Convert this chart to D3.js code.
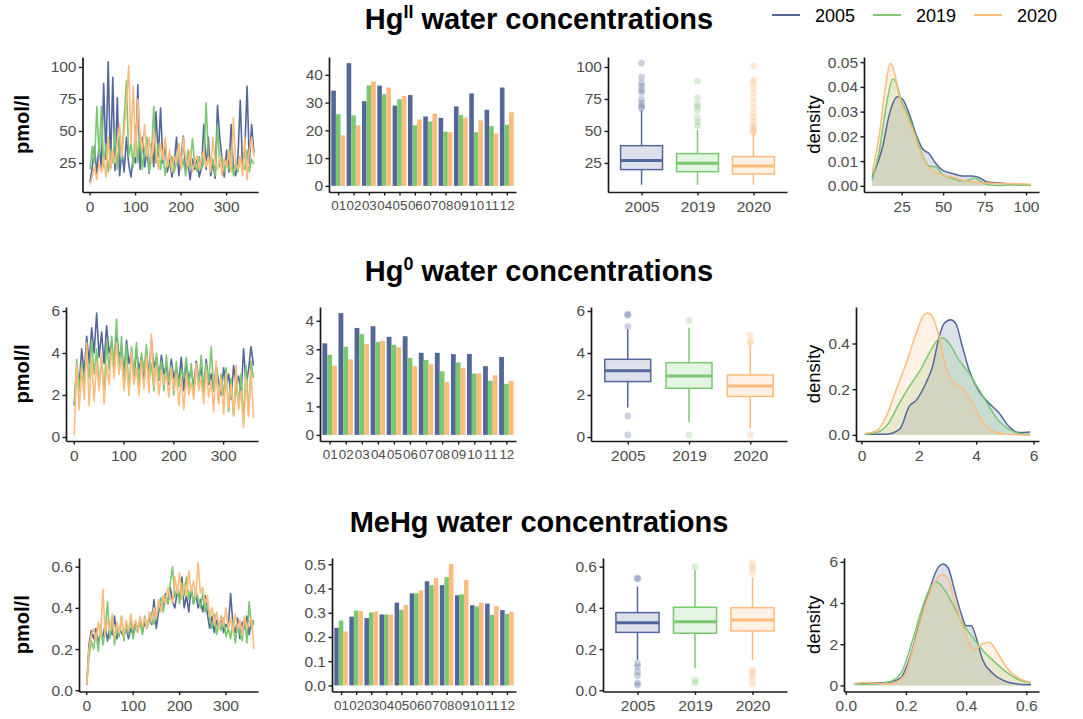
<!DOCTYPE html>
<html>
<head>
<meta charset="utf-8">
<script src="https://cdn.jsdelivr.net/npm/d3@7"></script>
<style>
  body { margin: 0; background: #fff; }
  text { font-family: "Liberation Sans", Arial, sans-serif; }
</style>
</head>
<body>
<svg id="chart" width="1083" height="719"></svg>
<script>
const years = ["2005", "2019", "2020"];
const yearColors = ["#53679a", "#7ac870", "#fdbb7c"];
const months = ["01", "02", "03", "04", "05", "06", "07", "08", "09", "10", "11", "12"];
const sampleDays = d3.range(1, 362, 5);
const dayTicks = [0, 100, 200, 300];

// ---- Hg(II) ----
const hg2Daily2005 = [10, 22, 38, 16, 40, 20, 87, 28, 104, 21, 92, 19, 76, 15, 35, 18, 45, 24, 14, 30, 25, 86, 20, 45, 22, 35, 17, 40, 22, 65, 30, 68, 25, 40, 18, 28, 14, 25, 45, 15, 30, 46, 18, 25, 12, 28, 20, 30, 14, 22, 55, 20, 45, 15, 25, 13, 70, 45, 28, 14, 35, 18, 55, 20, 15, 30, 74, 22, 35, 85, 25, 55, 33];
const hg2Daily2019 = [20, 38, 25, 69, 30, 69, 22, 40, 18, 35, 25, 50, 20, 45, 28, 60, 89, 30, 40, 22, 55, 25, 48, 20, 35, 45, 18, 30, 69, 25, 40, 20, 35, 15, 28, 22, 30, 18, 25, 40, 20, 28, 15, 35, 22, 44, 25, 18, 30, 20, 25, 72, 30, 20, 28, 15, 55, 22, 30, 18, 25, 20, 35, 15, 25, 18, 30, 22, 20, 35, 18, 28, 24];
const hg2Daily2020 = [8, 15, 22, 12, 25, 18, 30, 14, 45, 20, 35, 25, 40, 55, 30, 50, 70, 101, 40, 85, 30, 75, 45, 35, 55, 30, 45, 25, 50, 35, 20, 40, 28, 45, 22, 35, 18, 30, 25, 40, 20, 45, 28, 22, 35, 18, 25, 30, 20, 28, 35, 22, 30, 18, 45, 25, 20, 30, 15, 28, 22, 35, 18, 60, 25, 20, 30, 15, 45, 12, 35, 45, 30];
const hg2Monthly2005 = [34.3, 44.2, 30.5, 36.1, 28.9, 32.7, 25.0, 24.5, 28.6, 33.3, 27.4, 35.4];
const hg2Monthly2019 = [25.8, 25.4, 36.2, 33.0, 31.2, 21.8, 23.2, 19.5, 25.5, 19.3, 21.5, 22.0];
const hg2Monthly2020 = [18.2, 21.8, 37.6, 35.4, 32.4, 23.9, 26.0, 19.3, 24.6, 23.6, 18.8, 26.5];
// [lower whisker, q1, median, q3, upper whisker]
const hg2Box = [[7.9, 19.8, 27.0, 38.5, 66.0], [7.9, 18.2, 24.7, 32.3, 50.7], [7.9, 16.4, 22.7, 30.0, 48.0]];
const hg2Outliers = [
  [67.6, 69.4, 71.5, 74.6, 80, 82, 85, 87.5, 92, 103],
  [54, 57, 60.5, 66, 69, 71, 76, 89],
  [49, 50, 51.5, 53, 55, 58, 61, 64, 68, 72, 76, 80, 84, 88, 90, 101]
];
const hg2Density2005 = [[7.2, 0.0036], [13.6, 0.016], [17.6, 0.029], [22.6, 0.036], [25.6, 0.035], [29.6, 0.029], [33.6, 0.021], [37.6, 0.015], [41.6, 0.013], [45.6, 0.009], [49.6, 0.0064], [55.6, 0.005], [61.6, 0.004], [67.6, 0.004], [71.6, 0.0034], [76.6, 0.0016], [81.6, 0.0013], [87.6, 0.001], [95.6, 0.0005], [103, 0.0003]];
const hg2Density2019 = [[7.2, 0.0023], [11.6, 0.0145], [15.6, 0.032], [19.6, 0.0432], [21.6, 0.042], [24.6, 0.035], [28.6, 0.029], [33.6, 0.02], [37.6, 0.0124], [41.6, 0.008], [45.6, 0.0077], [49.6, 0.0047], [55.6, 0.003], [61.6, 0.002], [65.6, 0.0023], [68.6, 0.0034], [71.6, 0.0023], [76.6, 0.0005], [83.6, 0.0001], [91.6, 0.0005], [103, 0.0001]];
const hg2Density2020 = [[7.2, 0.005], [11.6, 0.021], [15.6, 0.0415], [18, 0.0496], [20.6, 0.046], [23.6, 0.036], [27.6, 0.029], [31.6, 0.0226], [35.6, 0.015], [39.6, 0.009], [44.6, 0.0057], [49.6, 0.0043], [55.6, 0.0036], [61.6, 0.0023], [67.6, 0.0016], [75.6, 0.0012], [83.6, 0.001], [91.6, 0.0009], [103, 0.0007]];
const hg2ValueTicks = [25, 50, 75, 100];
const hg2BarTicks = [0, 10, 20, 30, 40];
const hg2DensityTicks = [0, 0.01, 0.02, 0.03, 0.04, 0.05];

// ---- Hg(0) ----
const hg0Daily2005 = [1.5, 3.2, 2.5, 4.2, 3.0, 4.8, 3.5, 5.2, 4.0, 5.9, 3.8, 5.0, 3.5, 5.3, 4.0, 4.5, 3.3, 5.0, 3.8, 4.2, 3.0, 4.6, 3.5, 4.0, 2.8, 4.2, 3.2, 3.8, 2.6, 4.0, 3.0, 4.6, 3.3, 3.8, 2.7, 3.9, 3.0, 3.4, 2.5, 3.7, 2.8, 3.3, 2.6, 3.8, 2.2, 3.5, 2.8, 3.2, 2.4, 3.6, 2.7, 3.3, 2.2, 3.7, 2.5, 3.0, 2.2, 3.4, 2.6, 2.0, 3.3, 2.4, 3.0, 1.8, 3.4, 2.5, 2.9, 2.0, 4.2, 2.5, 3.2, 4.3, 3.4];
const hg0Daily2019 = [1.5, 3.7, 2.2, 3.5, 2.5, 4.0, 2.8, 4.6, 3.0, 4.2, 2.4, 3.8, 2.0, 4.5, 3.2, 4.8, 3.5, 5.6, 3.0, 4.8, 2.5, 4.4, 2.0, 4.3, 3.0, 4.5, 2.4, 4.0, 3.2, 4.4, 2.6, 3.5, 2.2, 4.0, 2.8, 3.6, 2.2, 3.9, 2.6, 3.4, 2.0, 3.6, 2.4, 3.2, 2.8, 3.8, 2.3, 3.5, 2.0, 3.4, 2.5, 3.9, 2.2, 3.5, 2.6, 4.3, 2.2, 3.2, 1.6, 3.0, 2.0, 3.3, 1.2, 2.8, 1.0, 2.5, 1.6, 3.0, 0.7, 3.4, 1.0, 3.6, 2.8];
const hg0Daily2020 = [0.1, 3.5, 1.3, 3.3, 1.8, 4.5, 1.5, 3.8, 1.7, 3.6, 2.2, 4.0, 1.6, 3.4, 2.5, 4.2, 2.8, 4.5, 3.0, 3.8, 2.2, 3.5, 2.0, 4.0, 2.5, 3.3, 2.0, 3.6, 2.3, 3.9, 2.1, 4.9, 2.4, 3.4, 2.0, 3.2, 2.5, 3.0, 1.9, 3.3, 2.2, 3.0, 1.5, 2.8, 1.3, 3.0, 2.0, 2.6, 1.8, 3.5, 2.2, 2.8, 1.6, 3.2, 1.9, 2.7, 1.2, 3.6, 1.6, 2.8, 1.1, 3.0, 1.4, 2.5, 1.0, 3.4, 1.3, 2.2, 0.45, 2.8, 1.0, 3.2, 0.9];
const hg0Monthly2005 = [3.21, 4.27, 3.75, 3.81, 3.44, 3.46, 2.88, 2.88, 2.83, 2.84, 2.41, 2.73];
const hg0Monthly2019 = [2.80, 3.09, 3.53, 3.26, 3.16, 2.70, 2.63, 2.23, 2.54, 2.15, 1.90, 1.79];
const hg0Monthly2020 = [2.43, 2.65, 3.18, 3.30, 3.07, 2.41, 2.48, 1.86, 2.35, 2.16, 2.09, 1.89];
const hg0Box = [[1.4, 2.64, 3.16, 3.70, 5.12], [0.7, 2.32, 2.90, 3.54, 5.20], [0.43, 1.93, 2.43, 2.95, 4.38]];
const hg0Outliers = [[5.25, 5.8, 5.85, 1.0, 0.1], [5.55, 0.1], [4.5, 4.55, 4.85, 0.1]];
const hg0Density2005 = [[0.12, 0.003], [0.87, 0.003], [1.33, 0.025], [1.67, 0.126], [1.9, 0.15], [2.25, 0.227], [2.48, 0.3], [2.71, 0.43], [2.88, 0.487], [3.11, 0.504], [3.29, 0.487], [3.52, 0.386], [3.75, 0.285], [4.1, 0.19], [4.44, 0.14], [4.79, 0.097], [5.13, 0.039], [5.48, 0.01], [5.88, 0.013]];
const hg0Density2019 = [[0.12, 0.003], [0.52, 0.01], [0.87, 0.039], [1.33, 0.14], [1.67, 0.212], [2.02, 0.277], [2.36, 0.357], [2.65, 0.414], [2.83, 0.425], [3.06, 0.4], [3.4, 0.328], [3.75, 0.27], [4.1, 0.198], [4.44, 0.126], [4.79, 0.061], [5.13, 0.025], [5.48, 0.007], [5.88, 0.001]];
const hg0Density2020 = [[0.12, 0.006], [0.52, 0.017], [0.87, 0.082], [1.21, 0.198], [1.56, 0.313], [1.9, 0.443], [2.13, 0.515], [2.31, 0.533], [2.48, 0.515], [2.71, 0.43], [2.94, 0.3], [3.23, 0.227], [3.52, 0.205], [3.86, 0.14], [4.21, 0.061], [4.56, 0.017], [5.02, 0.003], [5.88, 0]];
const hg0ValueTicks = [0, 2, 4, 6];
const hg0BarTicks = [0, 1, 2, 3, 4];
const hg0DensityTicks = [0, 0.2, 0.4];

// ---- MeHg ----
const mehgDaily2005 = [0.025, 0.22, 0.29, 0.25, 0.3, 0.23, 0.28, 0.26, 0.32, 0.24, 0.3, 0.27, 0.36, 0.25, 0.3, 0.28, 0.26, 0.31, 0.25, 0.3, 0.27, 0.33, 0.3, 0.34, 0.28, 0.33, 0.3, 0.36, 0.32, 0.44, 0.3, 0.38, 0.42, 0.4, 0.47, 0.42, 0.5, 0.43, 0.4, 0.48, 0.44, 0.55, 0.4, 0.46, 0.38, 0.5, 0.42, 0.47, 0.4, 0.44, 0.38, 0.46, 0.37, 0.3, 0.36, 0.28, 0.34, 0.3, 0.36, 0.28, 0.32, 0.3, 0.47, 0.32, 0.28, 0.35, 0.25, 0.33, 0.3, 0.36, 0.27, 0.34, 0.32];
const mehgDaily2019 = [0.025, 0.16, 0.24, 0.2, 0.28, 0.19, 0.32, 0.22, 0.29, 0.43, 0.25, 0.35, 0.22, 0.3, 0.26, 0.36, 0.24, 0.32, 0.27, 0.35, 0.25, 0.31, 0.28, 0.34, 0.27, 0.36, 0.3, 0.34, 0.38, 0.32, 0.36, 0.4, 0.45, 0.38, 0.46, 0.42, 0.52, 0.6, 0.45, 0.5, 0.42, 0.52, 0.46, 0.55, 0.44, 0.5, 0.42, 0.48, 0.45, 0.4, 0.47, 0.38, 0.42, 0.35, 0.3, 0.37, 0.27, 0.33, 0.29, 0.35, 0.26, 0.3, 0.25, 0.34, 0.23, 0.31, 0.28, 0.24, 0.35, 0.23, 0.43, 0.3, 0.34];
const mehgDaily2020 = [0.025, 0.2, 0.27, 0.3, 0.24, 0.33, 0.26, 0.49, 0.27, 0.34, 0.29, 0.37, 0.25, 0.33, 0.28, 0.36, 0.26, 0.34, 0.29, 0.37, 0.3, 0.34, 0.28, 0.36, 0.31, 0.35, 0.3, 0.38, 0.33, 0.4, 0.35, 0.44, 0.38, 0.46, 0.42, 0.5, 0.45, 0.42, 0.55, 0.47, 0.57, 0.44, 0.52, 0.46, 0.58, 0.48, 0.53, 0.45, 0.62, 0.47, 0.5, 0.42, 0.46, 0.36, 0.4, 0.32, 0.38, 0.3, 0.36, 0.32, 0.4, 0.3, 0.35, 0.28, 0.37, 0.3, 0.34, 0.27, 0.36, 0.3, 0.33, 0.35, 0.2];
const mehgMonthly2005 = [0.238, 0.284, 0.278, 0.293, 0.342, 0.380, 0.430, 0.414, 0.372, 0.331, 0.338, 0.311];
const mehgMonthly2019 = [0.268, 0.309, 0.301, 0.293, 0.312, 0.380, 0.414, 0.447, 0.376, 0.326, 0.291, 0.295];
const mehgMonthly2020 = [0.223, 0.307, 0.305, 0.292, 0.332, 0.393, 0.443, 0.501, 0.436, 0.342, 0.327, 0.304];
const mehgBox = [[0.147, 0.281, 0.328, 0.377, 0.503], [0.107, 0.277, 0.332, 0.403, 0.584], [0.147, 0.288, 0.341, 0.401, 0.548]];
const mehgOutliers = [
  [0.54, 0.545, 0.13, 0.115, 0.09, 0.07, 0.035, 0.025],
  [0.6, 0.05, 0.035],
  [0.57, 0.59, 0.6, 0.62, 0.1, 0.085, 0.07, 0.05, 0.03]
];
const mehgDensity2005 = [[0.027, 0.08], [0.071, 0.11], [0.137, 0.14], [0.181, 0.35], [0.214, 1.39], [0.247, 3.14], [0.28, 4.74], [0.307, 5.73], [0.323, 5.89], [0.34, 5.7], [0.362, 4.58], [0.384, 3.46], [0.4, 2.9], [0.417, 2.9], [0.433, 2.34], [0.455, 1.23], [0.488, 0.59], [0.532, 0.19], [0.576, 0.06], [0.615, 0.03]];
const mehgDensity2019 = [[0.027, 0.06], [0.093, 0.06], [0.148, 0.19], [0.186, 0.67], [0.225, 2.34], [0.258, 3.94], [0.291, 4.98], [0.302, 5.02], [0.323, 4.74], [0.356, 3.94], [0.389, 2.98], [0.422, 2.34], [0.455, 1.71], [0.488, 1.23], [0.532, 0.67], [0.576, 0.27], [0.615, 0.11]];
const mehgDensity2020 = [[0.027, 0.08], [0.06, 0.14], [0.093, 0.11], [0.148, 0.08], [0.192, 0.43], [0.225, 1.87], [0.258, 3.62], [0.291, 4.9], [0.318, 5.37], [0.334, 5.3], [0.362, 4.1], [0.389, 2.82], [0.411, 2.03], [0.428, 1.74], [0.455, 2.03], [0.477, 2.1], [0.499, 1.71], [0.532, 0.91], [0.576, 0.35], [0.615, 0.14]];
const mehgValueTicks = [0, 0.2, 0.4, 0.6];
const mehgBarTicks = [0, 0.1, 0.2, 0.3, 0.4, 0.5];
const mehgDensityTicks = [0, 2, 4, 6];

// layout of the three rows (pixels) and value ranges of the shared axes
const rows = [
  { title: "Hg", sup: "II", titleY: 29, top: 57, bottom: 192,
    ts: [82.5, 258], bar: [329, 516], box: [608, 787], dens: [864, 1039],
    valueDomain: [2.3, 107.8], valueFmt: "d", barFmt: "d", densFmt: ".2f",
    daily: [hg2Daily2005, hg2Daily2019, hg2Daily2020],
    monthly: [hg2Monthly2005, hg2Monthly2019, hg2Monthly2020],
    boxes: hg2Box, outliers: hg2Outliers,
    density: [hg2Density2005, hg2Density2019, hg2Density2020],
    valueTicks: hg2ValueTicks, barTicks: hg2BarTicks, densTicks: hg2DensityTicks, densXTicks: hg2ValueTicks, densXFmt: "d" },
  { title: "Hg", sup: "0", titleY: 281, top: 307, bottom: 441,
    ts: [66, 258], bar: [320, 516], box: [591, 787], dens: [856, 1039],
    valueDomain: [-0.19, 6.19], valueFmt: "d", barFmt: "d", densFmt: ".1f",
    daily: [hg0Daily2005, hg0Daily2019, hg0Daily2020],
    monthly: [hg0Monthly2005, hg0Monthly2019, hg0Monthly2020],
    boxes: hg0Box, outliers: hg0Outliers,
    density: [hg0Density2005, hg0Density2019, hg0Density2020],
    valueTicks: hg0ValueTicks, barTicks: hg0BarTicks, densTicks: hg0DensityTicks, densXTicks: hg0ValueTicks, densXFmt: "d" },
  { title: "MeHg", sup: "", titleY: 532, top: 558, bottom: 691.5,
    ts: [79, 258], bar: [332, 516], box: [603, 787], dens: [844, 1039],
    valueDomain: [-0.006, 0.642], valueFmt: ".1f", barFmt: ".1f", densFmt: "d",
    daily: [mehgDaily2005, mehgDaily2019, mehgDaily2020],
    monthly: [mehgMonthly2005, mehgMonthly2019, mehgMonthly2020],
    boxes: mehgBox, outliers: mehgOutliers,
    density: [mehgDensity2005, mehgDensity2019, mehgDensity2020],
    valueTicks: mehgValueTicks, barTicks: mehgBarTicks, densTicks: mehgDensityTicks, densXTicks: mehgValueTicks, densXFmt: ".1f" }
];

const svg = d3.select("#chart");
const dayDomain = [-15.5, 370];

function styleAxis(g, size) {
  g.attr("font-family", null).attr("font-size", null);
  g.select(".domain").attr("stroke", "#1a1a1a").attr("stroke-width", 1.7);
  g.selectAll(".tick line").attr("stroke", "#1a1a1a").attr("stroke-width", 1.4);
  g.selectAll(".tick text").attr("fill", "#4d4d4d").style("font-size", (size || 15.5) + "px");
}

function drawAxes(row, x, y, xr, xTicks, xFmt, yTicks, yFmt) {
  const xAxis = d3.axisBottom(x).tickSize(3.5).tickSizeOuter(0).tickPadding(5);
  if (xTicks) xAxis.tickValues(xTicks).tickFormat(d3.format(xFmt));
  svg.append("g").attr("transform", `translate(0,${row.bottom})`).call(xAxis).call(styleAxis);
  const yAxis = d3.axisLeft(y).tickSize(3.5).tickSizeOuter(0).tickPadding(2.5)
    .tickValues(yTicks).tickFormat(d3.format(yFmt));
  svg.append("g").attr("transform", `translate(${xr[0]},0)`).call(yAxis).call(styleAxis);
}

rows.forEach(row => {
  // title
  const t = svg.append("text").attr("x", 539).attr("y", row.titleY)
    .attr("text-anchor", "middle").style("font-size", "29px").style("font-weight", "bold");
  t.append("tspan").text(row.title);
  if (row.sup) t.append("tspan").attr("dy", -11).style("font-size", "18px").text(row.sup);
  if (row.sup) t.append("tspan").attr("dy", 11).text(" water concentrations");
  else t.append("tspan").text(" water concentrations");

  const mid = (row.top + row.bottom) / 2;
  svg.append("text").attr("transform", `translate(29,${mid}) rotate(-90)`)
    .attr("text-anchor", "middle").style("font-size", "20px").style("font-weight", "bold").text("pmol/l");
  svg.append("text").attr("transform", `translate(820,${mid}) rotate(-90)`)
    .attr("text-anchor", "middle").style("font-size", "18.5px").text("density");

  // daily lines
  const xd = d3.scaleLinear().domain(dayDomain).range(row.ts);
  const yv = d3.scaleLinear().domain(row.valueDomain).range([row.bottom, row.top]);
  const line = d3.line().x((d, i) => xd(sampleDays[i])).y(d => yv(d));
  row.daily.forEach((s, k) => {
    svg.append("path").datum(s).attr("d", line).attr("fill", "none")
      .attr("stroke", yearColors[k]).attr("stroke-width", 1.6).attr("stroke-linejoin", "round");
  });
  drawAxes(row, xd, yv, row.ts, dayTicks, "d", row.valueTicks, row.valueFmt);

  // monthly bars
  const maxBar = d3.max(row.monthly.flat());
  const xm = d3.scalePoint().domain(months).range(row.bar).padding(0.6);
  const ym = d3.scaleLinear().domain([-0.05 * maxBar, 1.05 * maxBar]).range([row.bottom, row.top]);
  const step = xm.step();
  row.monthly.forEach((s, k) => {
    svg.append("g").selectAll("rect").data(s).enter().append("rect")
      .attr("x", (d, i) => xm(months[i]) - 0.45 * step + k * 0.3 * step)
      .attr("width", 0.3 * step)
      .attr("y", d => ym(d))
      .attr("height", d => ym(0) - ym(d))
      .attr("fill", yearColors[k]);
  });
  const xmAxis = d3.axisBottom(xm).tickSize(3.5).tickSizeOuter(0).tickPadding(5);
  // month labels sit edge to edge, as in the original
  svg.append("g").attr("transform", `translate(0,${row.bottom})`).call(xmAxis).call(styleAxis, 13.4);
  svg.append("g").attr("transform", `translate(${row.bar[0]},0)`)
    .call(d3.axisLeft(ym).tickSize(3.5).tickSizeOuter(0).tickPadding(2.5)
      .tickValues(row.barTicks).tickFormat(d3.format(row.barFmt)))
    .call(styleAxis);

  // box plots
  const xb = d3.scalePoint().domain(years).range(row.box).padding(0.6);
  const bw = 0.75 * xb.step();
  row.boxes.forEach((b, k) => {
    const cx = xb(years[k]);
    const c = yearColors[k];
    const g = svg.append("g");
    g.selectAll("circle").data(row.outliers[k]).enter().append("circle")
      .attr("cx", cx).attr("cy", d => yv(d)).attr("r", 3.4)
      .attr("fill", c).attr("fill-opacity", 0.3);
    g.append("line").attr("x1", cx).attr("x2", cx).attr("y1", yv(b[0])).attr("y2", yv(b[1]))
      .attr("stroke", c).attr("stroke-width", 1.5);
    g.append("line").attr("x1", cx).attr("x2", cx).attr("y1", yv(b[3])).attr("y2", yv(b[4]))
      .attr("stroke", c).attr("stroke-width", 1.5);
    g.append("rect").attr("x", cx - bw / 2).attr("width", bw)
      .attr("y", yv(b[3])).attr("height", yv(b[1]) - yv(b[3]))
      .attr("fill", c).attr("fill-opacity", 0.2).attr("stroke", c).attr("stroke-width", 1.5);
    g.append("line").attr("x1", cx - bw / 2).attr("x2", cx + bw / 2).attr("y1", yv(b[2])).attr("y2", yv(b[2]))
      .attr("stroke", c).attr("stroke-width", 3);
  });
  svg.append("g").attr("transform", `translate(0,${row.bottom})`)
    .call(d3.axisBottom(xb).tickSize(3.5).tickSizeOuter(0).tickPadding(5)).call(styleAxis);
  svg.append("g").attr("transform", `translate(${row.box[0]},0)`)
    .call(d3.axisLeft(yv).tickSize(3.5).tickSizeOuter(0).tickPadding(2.5)
      .tickValues(row.valueTicks).tickFormat(d3.format(row.valueFmt)))
    .call(styleAxis);

  // density curves
  const maxDen = d3.max(row.density.flat(), d => d[1]);
  const xk = d3.scaleLinear().domain(row.valueDomain).range(row.dens);
  const yk = d3.scaleLinear().domain([-0.05 * maxDen, 1.05 * maxDen]).range([row.bottom, row.top]);
  const area = d3.area().curve(d3.curveMonotoneX).x(d => xk(d[0])).y0(yk(0)).y1(d => yk(d[1]));
  const dline = d3.line().curve(d3.curveMonotoneX).x(d => xk(d[0])).y(d => yk(d[1]));
  row.density.forEach((s, k) => {
    svg.append("path").datum(s).attr("d", area).attr("fill", yearColors[k]).attr("fill-opacity", 0.2);
  });
  row.density.forEach((s, k) => {
    svg.append("path").datum(s).attr("d", dline).attr("fill", "none")
      .attr("stroke", yearColors[k]).attr("stroke-width", 1.5);
  });
  drawAxes(row, xk, yk, row.dens, row.densXTicks, row.densXFmt, row.densTicks, row.densFmt);
});

// legend
const legend = svg.append("g").selectAll("g").data(years).enter().append("g")
  .attr("transform", (d, i) => `translate(${772 + i * 101},0)`);
legend.append("line").attr("x1", 0).attr("x2", 28).attr("y1", 15).attr("y2", 15)
  .attr("stroke", (d, i) => yearColors[i]).attr("stroke-width", 2);
legend.append("text").attr("x", 43).attr("y", 21.5).style("font-size", "18px").text(d => d);
</script>
</body>
</html>
